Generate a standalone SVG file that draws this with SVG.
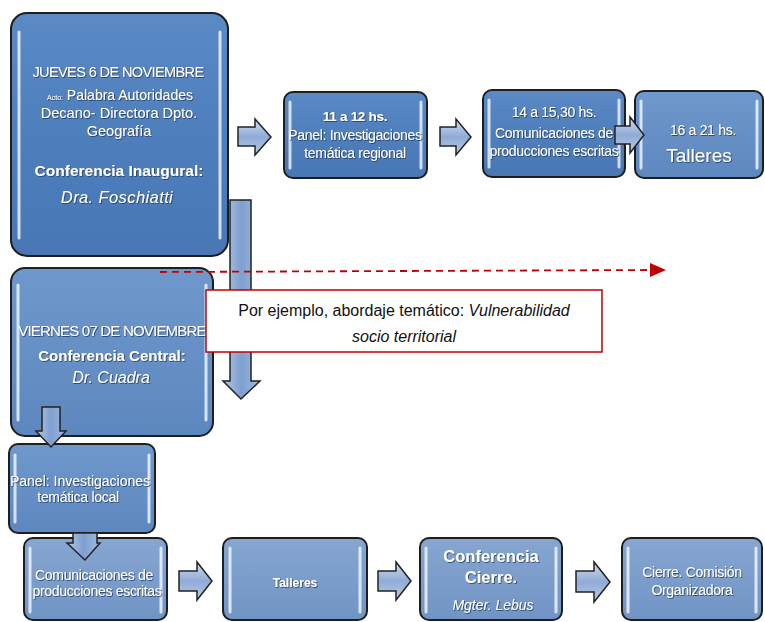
<svg xmlns="http://www.w3.org/2000/svg" width="765" height="622" viewBox="0 0 765 622">
<defs>
<linearGradient id="gDark" x1="0" y1="0" x2="0" y2="1"><stop offset="0" stop-color="#5b8ac5"/><stop offset="0.5" stop-color="#4e7ebc"/><stop offset="1" stop-color="#4877b4"/></linearGradient>
<linearGradient id="gMid" x1="0" y1="0" x2="0" y2="1"><stop offset="0" stop-color="#6f98cc"/><stop offset="1" stop-color="#5d87bf"/></linearGradient>
<linearGradient id="gLight" x1="0" y1="0" x2="0" y2="1"><stop offset="0" stop-color="#87a6d1"/><stop offset="1" stop-color="#7094c5"/></linearGradient>
<linearGradient id="gArrow" x1="0" y1="0" x2="0" y2="1"><stop offset="0" stop-color="#d2ddee"/><stop offset="0.5" stop-color="#8fabd6"/><stop offset="1" stop-color="#bccce6"/></linearGradient>
<linearGradient id="gArrowV" x1="0" y1="0" x2="1" y2="0"><stop offset="0" stop-color="#b3c7e4"/><stop offset="0.5" stop-color="#7e9fd0"/><stop offset="1" stop-color="#a3badd"/></linearGradient>
<filter id="ts" x="-10%" y="-30%" width="120%" height="160%"><feDropShadow dx="0.8" dy="0.8" stdDeviation="0.6" flood-color="#1f3553" flood-opacity="0.9"/></filter>
</defs>
<style>
.box{stroke:#1e1e1e;stroke-width:2}
.hl{stroke:#ffffff;stroke-width:3;stroke-linecap:round;opacity:0.75;fill:none}
.arr{fill:url(#gArrow);stroke:#222;stroke-width:1.5;stroke-linejoin:miter}
.av{fill:url(#gArrowV)}
.t{font-family:"Liberation Sans","Open Sans",sans-serif;fill:#ffffff;text-anchor:middle;filter:url(#ts)}
.n{font-size:14px;letter-spacing:-0.3px}
.b{font-weight:bold;font-size:15px}
.i{font-style:italic;font-size:15px}
.note{font-family:"Liberation Sans","Open Sans",sans-serif;font-size:16px;fill:#111;text-anchor:middle}
</style>
<rect width="765" height="622" fill="#ffffff"/>

<g id="n1">
<rect class="box" x="11" y="13" width="217" height="243" rx="16" fill="url(#gDark)"/>
<line class="hl" x1="19" y1="32" x2="19" y2="238"/><line class="hl" x1="220" y1="32" x2="220" y2="238"/>
<text class="t" x="118" y="77" style="font-size:14.5px;letter-spacing:-0.6px">JUEVES 6 DE NOVIEMBRE</text>
<text class="t" x="120" y="100" style="font-size:14px"><tspan style="font-size:7px">Acto:</tspan> Palabra  Autoridades</text>
<text class="t" x="119" y="118" style="font-size:14.5px">Decano- Directora Dpto.</text>
<text class="t" x="119" y="136" style="font-size:14.5px">Geografía</text>
<text class="t b" x="119" y="176" style="font-size:15.5px">Conferencia Inaugural:</text>
<text class="t i" x="117" y="203" style="font-size:16.5px;letter-spacing:0.4px">Dra. Foschiatti</text>
</g>

<g id="n2">
<rect class="box" x="284" y="92" width="143" height="86" rx="9" fill="url(#gDark)"/>
<line class="hl" x1="290" y1="102" x2="290" y2="168"/><line class="hl" x1="421" y1="102" x2="421" y2="168"/>
<text class="t n" x="355" y="121" style="font-weight:bold;font-size:13.5px">11  a 12 hs.</text>
<text class="t n" x="355" y="140">Panel: Investigaciones</text>
<text class="t n" x="355" y="158">temática regional</text>
</g>

<g id="n3">
<rect class="box" x="483" y="90" width="142" height="87" rx="9" fill="url(#gDark)"/>
<line class="hl" x1="489" y1="100" x2="489" y2="167"/><line class="hl" x1="619" y1="100" x2="619" y2="167"/>
<text class="t n" x="554" y="117">14 a 15,30 hs.</text>
<text class="t n" x="554" y="138">Comunicaciones de</text>
<text class="t n" x="554" y="156">producciones escritas</text>
</g>

<g id="n4">
<rect class="box" x="635" y="91" width="128" height="87" rx="9" fill="url(#gMid)"/>
<line class="hl" x1="641" y1="101" x2="641" y2="168"/><line class="hl" x1="757" y1="101" x2="757" y2="168"/>
<text class="t n" x="703" y="135">16 a 21 hs.</text>
<text class="t" x="699" y="162" style="font-size:19px">Talleres</text>
</g>

<g id="n5">
<rect class="box" x="11" y="268" width="202" height="168" rx="14" fill="url(#gMid)"/>
<line class="hl" x1="18" y1="285" x2="18" y2="420"/><line class="hl" x1="206" y1="285" x2="206" y2="420"/>
<text class="t" x="112" y="336" style="font-size:15px;letter-spacing:-0.8px">VIERNES 07 DE NOVIEMBRE</text>
<text class="t b" x="112" y="361">Conferencia Central:</text>
<text class="t i" x="111" y="383" style="font-size:16px">Dr. Cuadra</text>
</g>

<g id="n6">
<rect class="box" x="9" y="444" width="146" height="89" rx="9" fill="url(#gMid)"/>
<line class="hl" x1="15" y1="455" x2="15" y2="522"/><line class="hl" x1="149" y1="455" x2="149" y2="522"/>
<text class="t n" x="80" y="486" style="letter-spacing:0">Panel: Investigaciones</text>
<text class="t n" x="78" y="502">temática local</text>
</g>

<g id="n7">
<rect class="box" x="24" y="538" width="143" height="82" rx="9" fill="url(#gLight)"/>
<line class="hl" x1="30" y1="548" x2="30" y2="612"/><line class="hl" x1="161" y1="548" x2="161" y2="612"/>
<text class="t n" x="94" y="580">Comunicaciones  de</text>
<text class="t n" x="97" y="596">producciones escritas</text>
</g>

<g id="n8">
<rect class="box" x="223" y="538" width="144" height="82" rx="9" fill="url(#gLight)"/>
<line class="hl" x1="230" y1="548" x2="230" y2="612"/><line class="hl" x1="360" y1="548" x2="360" y2="612"/>
<text class="t" x="295" y="587" style="font-size:12px;font-weight:bold">Talleres</text>
</g>

<g id="n9">
<rect class="box" x="420" y="538" width="142" height="82" rx="9" fill="url(#gLight)"/>
<line class="hl" x1="426" y1="548" x2="426" y2="612"/><line class="hl" x1="556" y1="548" x2="556" y2="612"/>
<text class="t b" x="491" y="562" style="font-size:16.5px">Conferencia</text>
<text class="t b" x="491" y="583" style="font-size:16.5px">Cierre.</text>
<text class="t i" x="493" y="610" style="font-size:14px">Mgter. Lebus</text>
</g>

<g id="n10">
<rect class="box" x="622" y="538" width="140" height="82" rx="9" fill="url(#gLight)"/>
<line class="hl" x1="628" y1="548" x2="628" y2="612"/><line class="hl" x1="756" y1="548" x2="756" y2="612"/>
<text class="t n" x="692" y="577">Cierre. Comisión</text>
<text class="t n" x="692" y="595">Organizadora</text>
</g>

<g id="connectors">
<path class="arr av" d="M230,200 H251 V381 H260 L241,399 L223,381 H230 Z"/>
<path class="arr" d="M238,127 H255 V119 L271,137 L255,155 V146 H238 Z"/>
<path class="arr" d="M440,127 H456 V119 L471,137 L456,155 V146 H440 Z"/>
<path class="arr" d="M615,126 H630 V117 L644,135 L630,153 V144 H615 Z"/>
<path class="arr av" d="M42,407 H60 V431 H66 L51,447 L36,431 H42 Z"/>
<path class="arr av" d="M73,533 H97 V543 H100 L85,560 L67,543 H73 Z"/>
<path class="arr" d="M179,571 H197 V562 L212,581 L197,600 V591 H179 Z"/>
<path class="arr" d="M378,571 H396 V562 L411,581 L396,600 V591 H378 Z"/>
<path class="arr" d="M576,571 H594 V562 L610,582 L594,602 V592 H576 Z"/>
<line x1="160" y1="272" x2="652" y2="270" stroke="#c00000" stroke-width="1.8" stroke-dasharray="7,5"/>
<path d="M650,263 L666,270 L650,277 Z" fill="#c00000"/>
</g>

<g id="note">
<rect x="206" y="290" width="396" height="62" fill="#ffffff" stroke="#c00000" stroke-width="1.5"/>
<text class="note" x="404" y="316">Por ejemplo, abordaje temático: <tspan font-style="italic">Vulnerabilidad</tspan></text>
<text class="note" x="404" y="342" font-style="italic">socio territorial</text>
</g>
</svg>
